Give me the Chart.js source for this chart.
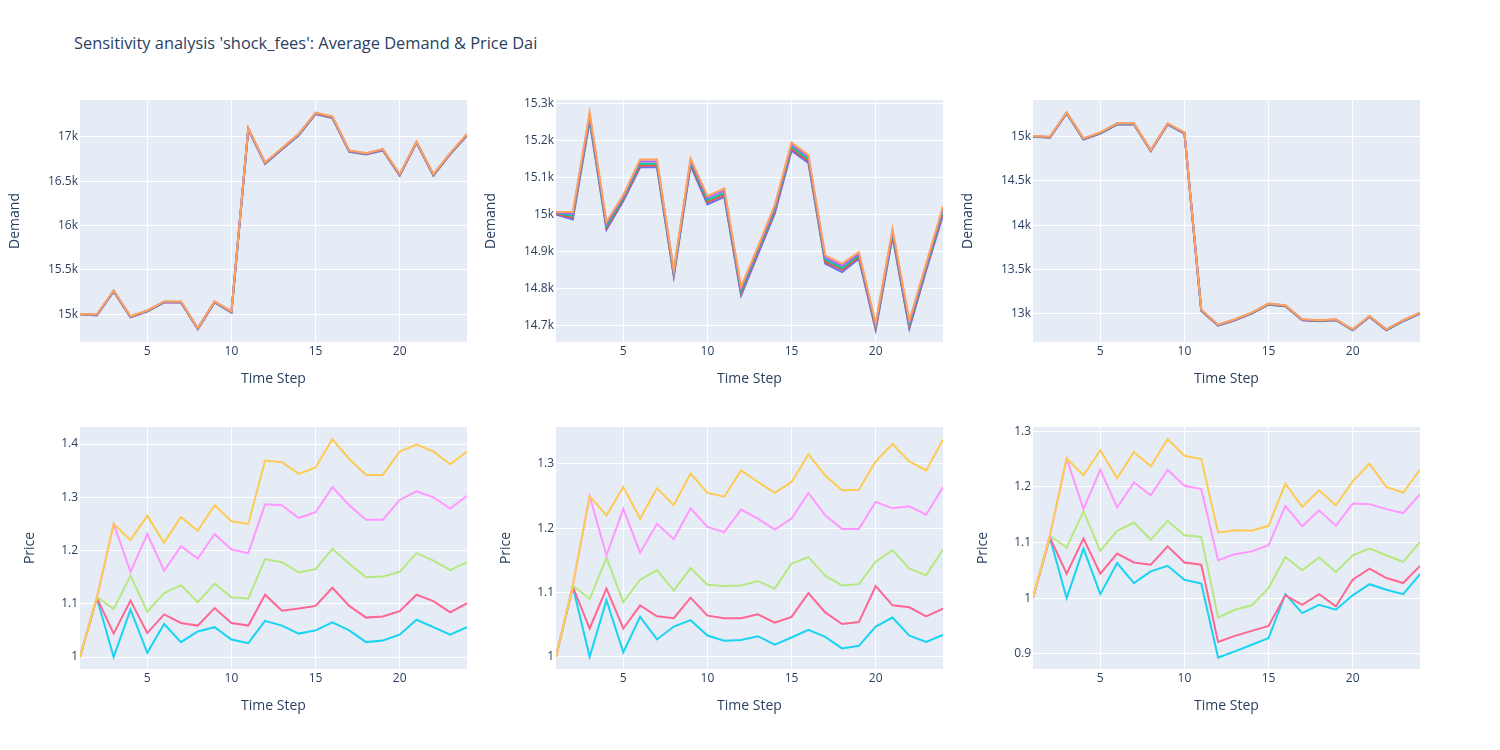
<!DOCTYPE html>
<html>
<head>
<meta charset="utf-8">
<script src="https://cdn.jsdelivr.net/npm/chart.js@4.4.0/dist/chart.umd.min.js"></script>
<style>
  body { margin: 0; background: #fff; width: 1500px; height: 750px; position: relative; overflow: hidden; }
  #title { position: absolute; left: 74px; top: 31px; font: 16.4px "Open Sans", verdana, arial, sans-serif; line-height: 24px; color: #2a3f5f; white-space: nowrap; }
  canvas { position: absolute; }
</style>
</head>
<body>
<div id="title">Sensitivity analysis 'shock_fees': Average Demand &amp; Price Dai</div>
<script>
// time steps shared by every panel
const timeSteps = [1,2,3,4,5,6,7,8,9,10,11,12,13,14,15,16,17,18,19,20,21,22,23,24];
const xTicks = [5, 10, 15, 20];

const demandColors = ['#636efa', '#EF553B', '#00cc96', '#ab63fa', '#FFA15A'];
const priceColors = ['#19d3f3', '#FF6692', '#B6E880', '#FF97FF', '#FECB52'];

// Demand, panel 1
const demand1 = [
  [15000,14986,15256,14965,15031,15133,15133,14833,15133,15020,17080,16694,16857,17016,17254,17210,16830,16800,16845,16562,16931,16562,16800,17014],
  [15001,14989,15259,14968,15034,15136,15136,14836,15136,15023,17084,16698,16861,17020,17258,17214,16834,16804,16849,16566,16935,16566,16804,17018],
  [15002,14992,15262,14972,15037,15139,15139,14839,15139,15026,17088,16702,16865,17024,17263,17219,16838,16808,16853,16570,16939,16570,16808,17022],
  [15003,14995,15265,14975,15040,15142,15142,14842,15142,15029,17091,16706,16868,17028,17267,17223,16841,16811,16856,16574,16942,16574,16811,17026],
  [15004,14998,15268,14978,15043,15145,15145,14845,15145,15032,17095,16710,16872,17032,17272,17228,16845,16815,16860,16578,16946,16578,16815,17030]
];
// Demand, panel 2
const demand2 = [
  [15000,14986,15252,14959,15036,15127,15127,14832,15132,15027,15047,14781,14892,15002,15172,15139,14867,14844,14880,14688,14939,14691,14848,14998],
  [15001,14991,15258,14964,15040,15132,15132,14836,15137,15033,15053,14787,14897,15008,15177,15144,14872,14850,14884,14692,14944,14696,14853,15004],
  [15003,14996,15263,14969,15044,15137,15137,14840,15142,15038,15058,14792,14902,15013,15183,15149,14878,14855,14889,14697,14949,14702,14857,15010],
  [15004,15001,15269,14975,15048,15143,15143,14845,15146,15044,15064,14798,14907,15019,15188,15155,14883,14861,14893,14701,14955,14707,14862,15016],
  [15006,15006,15275,14980,15052,15148,15148,14849,15151,15049,15070,14804,14912,15025,15194,15160,14889,14867,14898,14706,14960,14713,14867,15022]
];
// Demand, panel 3
const demand3 = [
  [15000,14988,15262,14968,15036,15138,15138,14836,15138,15036,13033,12864,12925,13000,13101,13082,12924,12914,12925,12812,12963,12812,12914,13000],
  [15002,14991,15265,14971,15039,15141,15141,14839,15141,15039,13036,12867,12928,13003,13104,13085,12927,12917,12928,12815,12966,12815,12917,13003],
  [15004,14994,15268,14975,15042,15144,15144,14842,15144,15042,13039,12869,12930,13005,13107,13088,12930,12919,12930,12817,12968,12817,12919,13005],
  [15006,14997,15272,14978,15046,15148,15148,14846,15148,15046,13042,12872,12933,13008,13110,13091,12933,12922,12933,12820,12971,12820,12922,13008],
  [15008,15000,15275,14981,15049,15151,15151,14849,15151,15049,13045,12875,12936,13011,13113,13094,12936,12925,12936,12823,12974,12823,12925,13011]
];

// Price, panel 1
const price1 = [
  [1.000,1.111,1.000,1.089,1.008,1.062,1.028,1.048,1.056,1.033,1.026,1.068,1.059,1.044,1.050,1.065,1.050,1.028,1.031,1.042,1.070,1.056,1.042,1.056],
  [1.000,1.111,1.044,1.106,1.045,1.080,1.064,1.059,1.092,1.064,1.059,1.117,1.087,1.091,1.096,1.130,1.096,1.074,1.076,1.086,1.117,1.105,1.084,1.101],
  [1.000,1.113,1.090,1.153,1.085,1.120,1.135,1.103,1.138,1.112,1.110,1.184,1.178,1.159,1.165,1.203,1.175,1.150,1.151,1.160,1.195,1.181,1.163,1.178],
  [1.000,1.111,1.250,1.160,1.231,1.162,1.208,1.185,1.231,1.202,1.195,1.287,1.285,1.261,1.272,1.319,1.285,1.258,1.258,1.295,1.311,1.300,1.279,1.303],
  [1.000,1.111,1.250,1.220,1.265,1.215,1.263,1.237,1.285,1.255,1.250,1.369,1.366,1.344,1.356,1.409,1.372,1.342,1.342,1.386,1.399,1.386,1.362,1.386]
];
// Price, panel 2
const price2 = [
  [1.000,1.109,1.000,1.088,1.007,1.062,1.027,1.047,1.057,1.033,1.025,1.026,1.032,1.019,1.030,1.042,1.031,1.013,1.017,1.047,1.061,1.033,1.023,1.034],
  [1.000,1.109,1.044,1.106,1.044,1.080,1.063,1.060,1.092,1.064,1.060,1.060,1.066,1.053,1.062,1.099,1.069,1.051,1.054,1.110,1.080,1.077,1.063,1.075],
  [1.000,1.111,1.090,1.154,1.085,1.120,1.135,1.103,1.138,1.112,1.110,1.111,1.118,1.106,1.145,1.155,1.126,1.111,1.113,1.148,1.166,1.137,1.127,1.167],
  [1.000,1.111,1.250,1.158,1.230,1.162,1.207,1.183,1.231,1.202,1.194,1.229,1.215,1.198,1.215,1.255,1.220,1.199,1.199,1.241,1.231,1.234,1.221,1.264],
  [1.000,1.111,1.250,1.220,1.264,1.215,1.262,1.236,1.285,1.255,1.249,1.290,1.272,1.255,1.272,1.315,1.282,1.259,1.260,1.304,1.331,1.304,1.290,1.338]
];
// Price, panel 3
const price3 = [
  [1.000,1.109,1.000,1.089,1.007,1.063,1.027,1.048,1.058,1.033,1.026,0.893,0.904,0.916,0.928,1.007,0.973,0.988,0.979,1.005,1.025,1.015,1.007,1.043],
  [1.000,1.109,1.044,1.107,1.044,1.080,1.064,1.060,1.093,1.064,1.060,0.921,0.932,0.941,0.950,1.005,0.988,1.007,0.985,1.033,1.053,1.036,1.027,1.058],
  [1.000,1.112,1.091,1.156,1.085,1.121,1.136,1.105,1.139,1.113,1.110,0.965,0.979,0.987,1.018,1.074,1.050,1.073,1.047,1.077,1.089,1.077,1.065,1.101],
  [1.000,1.112,1.251,1.160,1.231,1.163,1.208,1.185,1.231,1.202,1.196,1.068,1.079,1.084,1.095,1.166,1.129,1.158,1.130,1.170,1.169,1.160,1.153,1.187],
  [1.000,1.112,1.251,1.221,1.266,1.216,1.263,1.237,1.286,1.256,1.250,1.118,1.122,1.121,1.130,1.206,1.164,1.194,1.167,1.210,1.242,1.200,1.190,1.231]
];

// y tick labels and ranges per panel
const demandTicks1 = [15000, 15500, 16000, 16500, 17000];
const demandTicks2 = [14700, 14800, 14900, 15000, 15100, 15200, 15300];
const demandTicks3 = [13000, 13500, 14000, 14500, 15000];
const priceTicks1 = [1, 1.1, 1.2, 1.3, 1.4];
const priceTicks2 = [1, 1.1, 1.2, 1.3];
const priceTicks3 = [0.9, 1, 1.1, 1.2, 1.3];
const demandRange1 = [14688, 17413];
const demandRange2 = [14655, 15309];
const demandRange3 = [12679, 15415];
const priceRange1 = [0.9775, 1.432];
const priceRange2 = [0.981, 1.3575];
const priceRange3 = [0.8724, 1.3078];

const FONT = "'Open Sans', verdana, arial, sans-serif";
const INK = '#2a3f5f';

// plot area boxes (left, top) in page px
const colLeft = [80, 556, 1033];
const rowTop = [100, 427];
const plotW = 387, plotH = 242;
const padL = 80, padT = 10, padR = 10, padB = 70;

const plotBg = {
  id: 'plotBg',
  beforeDraw(chart) {
    const a = chart.chartArea;
    chart.ctx.save();
    chart.ctx.fillStyle = '#E5ECF6';
    chart.ctx.fillRect(a.left, a.top, a.right - a.left, a.bottom - a.top);
    chart.ctx.restore();
  }
};

function kFormat(v) { return (+(v / 1000).toFixed(1)) + 'k'; }
function pFormat(v) { return String(+v.toFixed(2)); }

function makePanel(col, row, series, colors, yTicks, yRange, yTitle, fmt, titlePad) {
  const canvas = document.createElement('canvas');
  canvas.width = plotW + padL + padR;
  canvas.height = plotH + padT + padB;
  canvas.style.left = (colLeft[col] - padL) + 'px';
  canvas.style.top = (rowTop[row] - padT) + 'px';
  document.body.appendChild(canvas);

  new Chart(canvas.getContext('2d'), {
    type: 'line',
    data: {
      labels: timeSteps,
      datasets: series.map((d, i) => ({
        data: d,
        borderColor: colors[i],
        backgroundColor: colors[i],
        borderWidth: 2,
        pointRadius: 0,
        tension: 0,
        fill: false,
        order: series.length - i
      }))
    },
    options: {
      responsive: false,
      animation: false,
      layout: { padding: { left: 0, top: padT, right: padR, bottom: 0 } },
      plugins: { legend: { display: false }, tooltip: { enabled: false } },
      scales: {
        x: {
          type: 'linear',
          min: 1, max: 24,
          afterBuildTicks: s => { s.ticks = xTicks.map(v => ({ value: v })); },
          afterFit: s => { s.height = padB; },
          grid: { color: '#fff', lineWidth: 1, drawTicks: false },
          border: { display: false },
          ticks: { color: INK, font: { family: FONT, size: 12 }, padding: 2, maxRotation: 0 },
          title: { display: true, text: 'Time Step', color: INK, font: { family: FONT, size: 14 }, padding: { top: 0, bottom: 25 } }
        },
        y: {
          type: 'linear',
          min: yRange[0], max: yRange[1],
          afterBuildTicks: s => { s.ticks = yTicks.map(v => ({ value: v })); },
          afterFit: s => { s.width = padL; },
          grid: { color: '#fff', lineWidth: 1, drawTicks: false },
          border: { display: false },
          ticks: { color: INK, font: { family: FONT, size: 12 }, padding: 2, callback: v => fmt(v) },
          title: { display: true, text: yTitle, color: INK, font: { family: FONT, size: 14 }, padding: { top: titlePad, bottom: 0 } }
        }
      }
    },
    plugins: [plotBg]
  });
}

makePanel(0, 0, demand1, demandColors, demandTicks1, demandRange1, 'Demand', kFormat, 7);
makePanel(1, 0, demand2, demandColors, demandTicks2, demandRange2, 'Demand', kFormat, 7);
makePanel(2, 0, demand3, demandColors, demandTicks3, demandRange3, 'Demand', kFormat, 7);
makePanel(0, 1, price1, priceColors, priceTicks1, priceRange1, 'Price', pFormat, 22);
makePanel(1, 1, price2, priceColors, priceTicks2, priceRange2, 'Price', pFormat, 22);
makePanel(2, 1, price3, priceColors, priceTicks3, priceRange3, 'Price', pFormat, 22);
</script>
</body>
</html>
